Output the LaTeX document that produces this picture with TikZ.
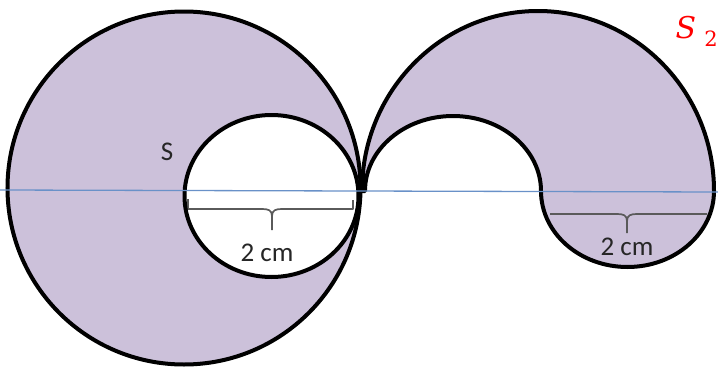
\documentclass[tikz,border=0pt]{standalone}
\usepackage{fontspec}
\newfontfamily\calibri{Carlito}
\newfontfamily\cambriaish{DejaVu Serif}
\definecolor{lav}{RGB}{204,193,218}
\definecolor{axisblue}{RGB}{105,145,200}
\definecolor{bracegray}{RGB}{90,90,90}
\begin{document}
\begin{tikzpicture}[x=1pt,y=-1pt,
  outline/.style={draw=black,line width=4pt},
  bracestyle/.style={draw=bracegray,line width=1.7pt,line join=round},
  lbl/.style={font=\calibri\fontsize{27}{30}\selectfont,text=black!85,inner sep=0pt}]
\useasboundingbox (0,0) rectangle (718,367);
% left shape
\fill[lav] (184,188) circle[radius=176.5];
\fill[white] (271.5,196) ellipse[x radius=87,y radius=81];
% right shape
\path[fill=lav] (362,191) arc[start angle=180,end angle=360,x radius=176,y radius=180]
  arc[start angle=0,end angle=180,x radius=86.5,y radius=76]
  arc[start angle=0,end angle=-180,x radius=88,y radius=75] -- cycle;
% brackets
\draw[bracestyle] (188,199) -- (188,209) -- (262,209) .. controls (268,209) and (272,210) .. (272,216) -- (272,230);
\draw[bracestyle] (353,200) -- (353,209) -- (282,209) .. controls (276,209) and (272,210) .. (272,216);
\draw[bracestyle] (550,214) -- (617,214) .. controls (623,214) and (627,215) .. (627,221) -- (627,233);
\draw[bracestyle] (707,214) -- (637,214) .. controls (631,214) and (627,215) .. (627,221);
% outlines
\draw[outline] (184,188) circle[radius=176.5];
\draw[outline] (271.5,196) ellipse[x radius=87,y radius=81];
\draw[outline,line join=round] (362,191) arc[start angle=180,end angle=360,x radius=176,y radius=180]
  arc[start angle=0,end angle=180,x radius=86.5,y radius=76]
  arc[start angle=0,end angle=-180,x radius=88,y radius=75] -- cycle;
% axis line
\coordinate (axL) at (0,190);
\coordinate (axR) at (718,192);
\draw[axisblue,line width=1.3pt] (axL) -- (axR);
% labels
\node[lbl] (s) at (167,152) {S};
\node[lbl] (cmL) at (267,253) {2 cm};
\node[lbl] (cmR) at (627,247) {2 cm};
\node[text=red,font=\cambriaish\fontsize{30}{32}\selectfont\itshape,inner sep=0pt] (s2) at (686,28) {S};
\node[text=red,font=\cambriaish\fontsize{21}{23}\selectfont,inner sep=0pt] (s2sub) at (711,39) {2};
\end{tikzpicture}
\end{document}
